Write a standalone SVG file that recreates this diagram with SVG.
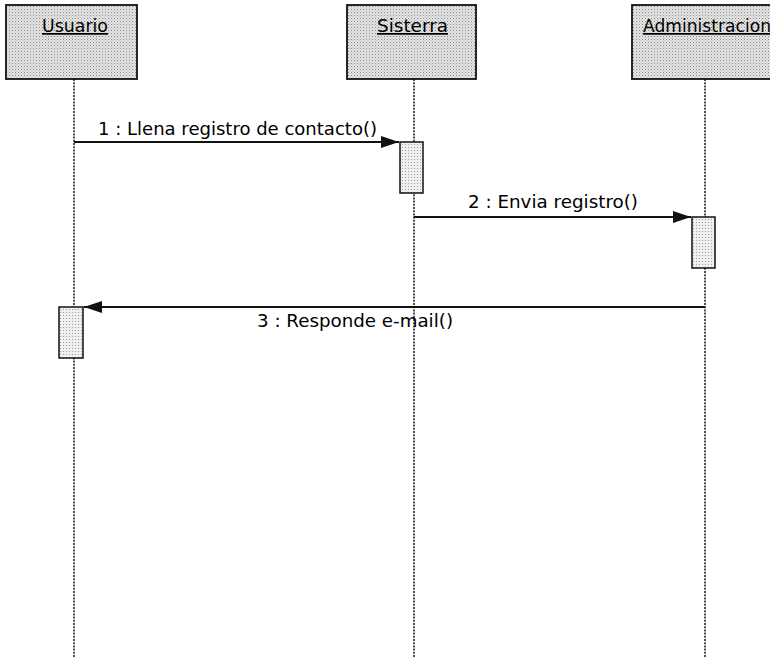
<svg xmlns="http://www.w3.org/2000/svg" width="770" height="658" viewBox="0 0 770 658">
  <style>
    .obj { fill: url(#dots); stroke: #111; stroke-width: 1.8; }
    .act { fill: url(#dotsLight); stroke: #111; stroke-width: 1.5; }
    .life { stroke: #222; stroke-width: 1.6; stroke-dasharray: 2 1.2; fill: none; }
    .msg { stroke: #111; stroke-width: 1.8; fill: none; }
    .title { font-family: "DejaVu Sans", "Liberation Sans", sans-serif; font-size: 17px; fill: #000; text-decoration: underline; }
    .label { font-family: "DejaVu Sans", "Liberation Sans", sans-serif; font-size: 18px; fill: #000; }
  </style>
  <defs>
    <pattern id="dots" width="3" height="3" patternUnits="userSpaceOnUse">
      <rect width="3" height="3" fill="#e4e4e4"/>
      <rect x="0" y="0" width="1" height="1" fill="#8a8a8a"/>
      <rect x="1.5" y="1.5" width="1" height="1" fill="#b0b0b0"/>
    </pattern>
    <pattern id="dotsLight" width="3" height="3" patternUnits="userSpaceOnUse">
      <rect width="3" height="3" fill="#f0f0f0"/>
      <rect x="0" y="0" width="1" height="1" fill="#a0a0a0"/>
    </pattern>
    <marker id="arrow" viewBox="0 0 18 12" refX="18" refY="6" markerWidth="18" markerHeight="12" markerUnits="userSpaceOnUse" orient="auto">
      <path d="M0,0 L18,6 L0,12 z" fill="#111"/>
    </marker>
  </defs>

  <!-- lifelines -->
  <g id="lifelines">
    <line class="life" x1="74" y1="79" x2="74" y2="658"/>
    <line class="life" x1="414" y1="79" x2="414" y2="658"/>
    <line class="life" x1="705" y1="79" x2="705" y2="658"/>
  </g>

  <g id="usuario">
    <rect class="obj" x="6" y="5" width="131" height="74"/>
    <text class="title" x="75" y="32" text-anchor="middle" textLength="66" lengthAdjust="spacingAndGlyphs">Usuario</text>
  </g>
  <g id="sistema">
    <rect class="obj" x="347" y="5" width="129" height="74"/>
    <text class="title" x="412.5" y="32" text-anchor="middle" textLength="71" lengthAdjust="spacingAndGlyphs">Sisterra</text>
  </g>
  <g id="administracion">
    <rect class="obj" x="632" y="5" width="146" height="74"/>
    <text class="title" x="643" y="32" textLength="128" lengthAdjust="spacingAndGlyphs">Administracion</text>
  </g>

  <!-- activation bars -->
  <g id="activations">
    <rect class="act" x="400" y="142" width="23" height="51"/>
    <rect class="act" x="692" y="217" width="23" height="51"/>
    <rect class="act" x="59" y="307" width="24" height="51"/>
  </g>

  <!-- messages -->
  <g id="connectors">
    <line class="msg" x1="74" y1="142" x2="399" y2="142" marker-end="url(#arrow)"/>
    <line class="msg" x1="414" y1="217" x2="691" y2="217" marker-end="url(#arrow)"/>
    <line class="msg" x1="705" y1="307" x2="84" y2="307" marker-end="url(#arrow)"/>
  </g>

  <g id="labels">
    <text class="label" x="98" y="135" textLength="279" lengthAdjust="spacingAndGlyphs">1 : Llena registro de contacto()</text>
    <text class="label" x="468" y="208" textLength="170" lengthAdjust="spacingAndGlyphs">2 : Envia registro()</text>
    <text class="label" x="257" y="327" textLength="196" lengthAdjust="spacingAndGlyphs">3 : Responde e-mail()</text>
  </g>
</svg>
